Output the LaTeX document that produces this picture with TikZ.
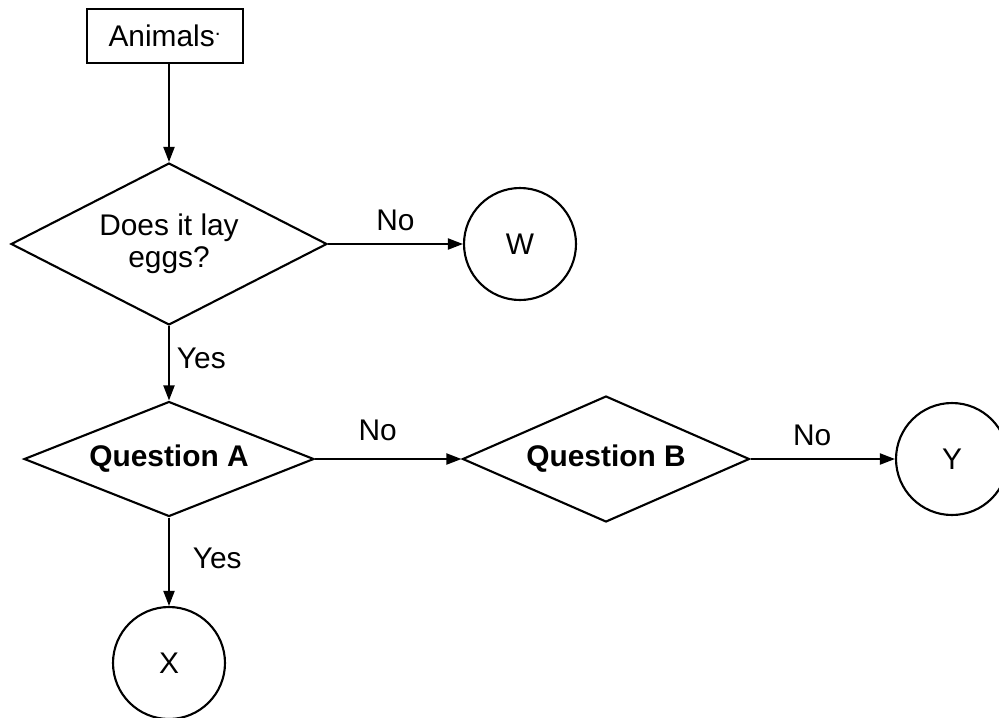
\documentclass[tikz,border=0pt]{standalone}
\usepackage{fontspec}
\setmainfont{Liberation Sans}
\usetikzlibrary{positioning, arrows.meta, shapes.geometric}

\begin{document}
\begin{tikzpicture}[x=0.02cm, y=-0.02cm,
    every node/.style={font=\fontsize{17}{18}\selectfont},
    box/.style={draw=black, line width=1.2pt, minimum width=3.12cm, minimum height=1.08cm, inner sep=0pt},
    query/.style={draw=black, diamond, line width=1.2pt, inner sep=0pt, align=center},
    leaf/.style={draw=black, circle, line width=1.2pt, minimum size=2.24cm, inner sep=0pt},
    flow/.style={-{Triangle[length=3mm, width=2.2mm]}, line width=1.1pt},
    lbl/.style={inner sep=2pt}]
    \useasboundingbox (0,0) rectangle (999,717);

    % start box and decisions
    \node[box] (animals) at (165,36) {Animals\textsuperscript{.}};
    \node[query, shape aspect=1.95, minimum width=6.32cm, minimum height=3.24cm] (eggs) at (169,244) {Does it lay\\eggs?};
    \node[query, shape aspect=2.52, minimum width=5.8cm, minimum height=2.3cm] (qa) at (169,459) {\textbf{Question A}};
    \node[query, shape aspect=2.28, minimum width=5.74cm, minimum height=2.52cm] (qb) at (606,459) {\textbf{Question B}};

    % outcomes
    \node[leaf] (w) at (520,244) {W};
    \node[leaf] (y) at (952,459) {Y};
    \node[leaf] (x) at (169,663) {X};

    % connectors
    \draw[flow] (animals.south -| eggs.north) -- (eggs.north);
    \draw[flow] (eggs.east) -- node[lbl, midway, above, yshift=5pt] {No} (w.west);
    \draw[flow] (eggs.south) -- node[lbl, midway, right, xshift=2pt, yshift=3pt] {Yes} (qa.north);
    \draw[flow] (qa.east) -- node[lbl, midway, above, yshift=8pt, xshift=-6pt] {No} (qb.west);
    \draw[flow] (qb.east) -- node[lbl, midway, above, yshift=5pt, xshift=-6pt] {No} (y.west);
    \draw[flow] (qa.south) -- node[lbl, midway, right, xshift=11pt, yshift=2pt] {Yes} (x.north);
\end{tikzpicture}
\end{document}
